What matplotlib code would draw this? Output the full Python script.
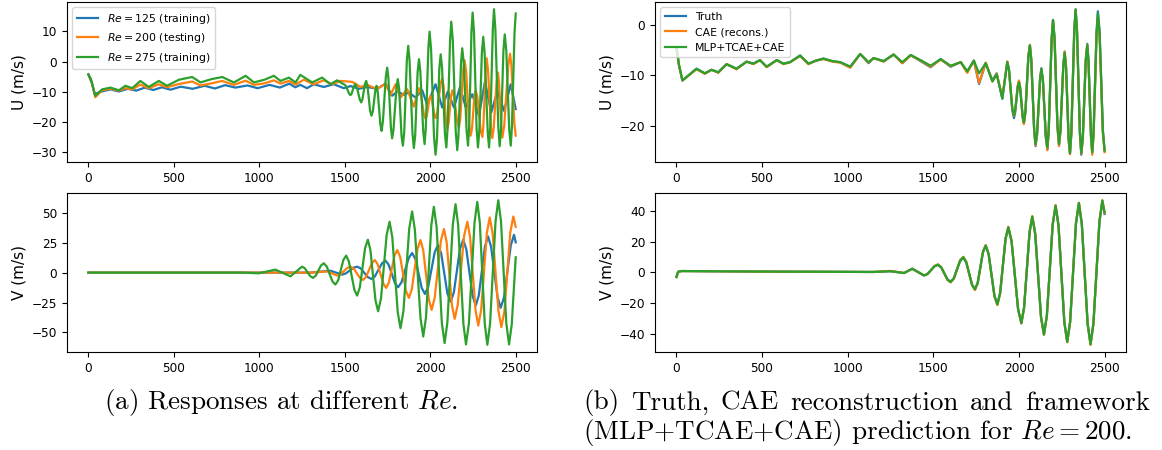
import matplotlib
matplotlib.use("Agg")
import matplotlib.pyplot as plt

# ---- (a) responses at different Re : U component, (time, value) ----
u125_pts = [(0, -4.2), (15, -5.8), (37, -10.8), (70, -10.0), (129, -9.2), (178, -9.9), (230, -9.0),
            (280, -9.6), (330, -8.6), (380, -9.4), (430, -8.5), (480, -9.3), (540, -8.3), (610, -9.0),
            (680, -8.0), (740, -8.9), (800, -7.8), (860, -8.6), (930, -7.9), (990, -8.8), (1060, -7.7),
            (1120, -8.6), (1175, -7.3), (1210, -8.5), (1240, -7.7), (1279, -8.8), (1318, -7.5), (1377, -8.4),
            (1436, -7.5), (1494, -8.8), (1533, -8.1), (1582, -9.0), (1631, -8.4), (1689, -9.0), (1738, -7.3),
            (1777, -11.3), (1807, -9.9), (1846, -11.0), (1875, -10.2), (1914, -11.9), (1953, -9.5),
            (1982, -14.3), (2031, -7.5), (2070, -15.2), (2103, -9.9), (2139, -15.2), (2174, -8.4),
            (2207, -15.0), (2246, -10.8), (2285, -17.9), (2320, -6.6), (2357, -16.8), (2393, -9.7),
            (2432, -16.3), (2471, -7.5), (2500, -15.7)]

u200_pts = [(0, -4.3), (20, -7.0), (40, -11.8), (80, -9.5), (129, -9.0), (178, -9.6), (217, -8.8),
            (256, -9.2), (304, -7.6), (353, -8.8), (412, -7.5), (460, -8.5), (530, -7.4), (607, -6.6),
            (656, -7.9), (720, -7.2), (783, -6.4), (851, -7.7), (920, -6.3), (968, -7.7), (1030, -7.2),
            (1085, -6.2), (1124, -7.3), (1173, -6.4), (1212, -7.6), (1260, -6.0), (1318, -7.5), (1377, -6.2),
            (1426, -7.5), (1475, -6.4), (1543, -6.7), (1592, -8.4), (1631, -7.7), (1689, -9.1), (1738, -7.3),
            (1768, -11.0), (1797, -7.5), (1826, -11.9), (1865, -9.1), (1904, -14.9), (1934, -8.8),
            (1944, -10.3), (1963, -17.5), (1973, -19.0), (1980, -17.9), (1995, -12.4), (2002, -11.3),
            (2009, -12.4), (2024, -17.6), (2031, -18.7), (2041, -16.8), (2060, -7.4), (2070, -5.5),
            (2078, -8.0), (2092, -19.8), (2100, -22.3), (2107, -20.4), (2122, -11.4), (2129, -9.5),
            (2139, -11.3), (2158, -20.0), (2168, -21.8), (2176, -18.6), (2193, -2.8), (2201, 0.4),
            (2210, -3.2), (2227, -20.9), (2236, -24.5), (2244, -22.3), (2258, -11.7), (2266, -9.5),
            (2276, -11.7), (2295, -22.7), (2305, -24.9), (2311, -21.1), (2324, -2.7), (2330, 1.1),
            (2338, -2.8), (2355, -21.4), (2363, -25.3), (2371, -22.1), (2388, -6.8), (2396, -3.6),
            (2402, -6.7), (2416, -22.0), (2422, -25.1), (2433, -21.1), (2456, -1.4), (2467, 2.6),
            (2475, -1.4), (2492, -20.5), (2500, -24.5)]

u275_pts = [(0, -4.3), (20, -7.0), (40, -11.3), (80, -9.2), (129, -8.6), (178, -9.5), (217, -8.0),
            (256, -8.8), (304, -6.4), (353, -8.4), (412, -6.4), (460, -8.0), (530, -6.0), (607, -5.1),
            (656, -6.9), (720, -5.8), (783, -5.1), (851, -6.9), (920, -4.7), (968, -6.9), (1030, -6.0),
            (1085, -4.7), (1124, -6.4), (1173, -5.3), (1212, -6.9), (1240, -4.4), (1309, -6.9), (1367, -5.3),
            (1416, -7.5), (1455, -6.2), (1500, -7.7), (1508, -8.2), (1525, -10.6), (1533, -11.1),
            (1540, -10.6), (1555, -8.0), (1562, -7.5), (1570, -8.4), (1588, -12.6), (1596, -13.5),
            (1603, -12.5), (1618, -7.4), (1625, -6.4), (1633, -8.1), (1648, -16.2), (1656, -17.9),
            (1664, -16.5), (1679, -9.4), (1686, -8.0), (1693, -10.2), (1708, -20.7), (1715, -22.9),
            (1723, -19.8), (1740, -5.1), (1748, -2.0), (1755, -5.4), (1770, -22.0), (1777, -25.4),
            (1785, -22.5), (1802, -8.7), (1810, -5.8), (1818, -9.0), (1832, -24.6), (1840, -27.8),
            (1848, -23.0), (1863, 0.4), (1871, 5.2), (1879, 0.3), (1896, -23.7), (1904, -28.6),
            (1912, -24.3), (1926, -3.5), (1934, 0.8), (1942, -3.3), (1959, -23.2), (1967, -27.3),
            (1974, -21.9), (1989, 4.5), (1996, 9.9), (2005, 3.9), (2022, -24.9), (2031, -30.8),
            (2039, -26.0), (2053, -2.4), (2061, 2.4), (2069, -2.1), (2086, -23.9), (2094, -28.4),
            (2101, -22.3), (2116, 7.1), (2123, 13.2), (2132, 7.0), (2149, -23.1), (2158, -29.3),
            (2165, -24.4), (2180, -0.5), (2187, 4.4), (2196, -0.3), (2213, -23.1), (2221, -27.8),
            (2228, -21.4), (2241, 9.8), (2248, 16.2), (2256, 9.7), (2271, -21.9), (2279, -28.4),
            (2287, -23.1), (2302, 2.9), (2310, 8.2), (2318, 2.9), (2336, -23.1), (2344, -28.4),
            (2351, -21.7), (2366, 10.6), (2373, 17.3), (2381, 10.7), (2398, -21.4), (2406, -28.0),
            (2414, -22.6), (2428, 3.6), (2436, 9.0), (2445, 3.6), (2462, -22.4), (2471, -27.8),
            (2478, -21.4), (2493, 9.5), (2500, 15.9)]

# ---- (a) V component ----
v125_pts = [(0, 0), (1300, 0), (1416, 1.6), (1484, -1.7), (1506, -0.7), (1550, 4.0), (1572, 5.0),
            (1593, 3.5), (1635, -3.8), (1656, -5.3), (1676, -3.1), (1718, 7.8), (1738, 10.0), (1756, 6.8),
            (1794, -9.0), (1812, -12.2), (1832, -8.0), (1874, 12.2), (1894, 16.4), (1913, 11.4),
            (1950, -12.8), (1969, -17.8), (1988, -11.8), (2026, 17.0), (2045, 23.0), (2064, 16.1),
            (2100, -17.3), (2119, -24.2), (2138, -16.7), (2174, 20.0), (2193, 27.5), (2211, 19.5),
            (2248, -19.5), (2266, -27.5), (2284, -19.1), (2320, 21.9), (2338, 30.3), (2356, 21.6),
            (2394, -20.7), (2412, -29.4), (2432, -20.5), (2471, 22.7), (2490, 31.6), (2500, 25.3)]

v200_pts = [(0, 0), (1300, 0), (1400, 1.0), (1455, -2.5), (1475, -1.4), (1514, 3.9), (1533, 5.0),
            (1552, 3.4), (1589, -4.5), (1607, -6.1), (1624, -3.7), (1659, 8.1), (1676, 10.5), (1692, 7.1),
            (1726, -9.4), (1742, -12.8), (1758, -8.2), (1791, 14.3), (1807, 18.9), (1824, 13.1),
            (1858, -15.3), (1875, -21.1), (1892, -14.0), (1926, 20.1), (1943, 27.2), (1959, 18.7),
            (1992, -22.6), (2008, -31.1), (2026, -21.2), (2062, 26.5), (2080, 36.4), (2096, 25.4),
            (2127, -27.6), (2143, -38.6), (2161, -26.8), (2198, 30.7), (2217, 42.5), (2233, 29.8),
            (2265, -31.5), (2281, -44.2), (2298, -31.0), (2331, 32.9), (2348, 46.1), (2365, 32.7),
            (2399, -32.2), (2416, -45.6), (2434, -32.1), (2468, 33.4), (2486, 46.9), (2500, 38.3)]

v275_pts = [(0, 0), (900, 0), (996, -0.6), (1094, 2.5), (1182, -3.1), (1250, 5.0), (1266, 3.6),
            (1298, -3.0), (1314, -4.4), (1330, -2.6), (1361, 6.0), (1377, 7.8), (1394, 5.2), (1428, -7.4),
            (1445, -10.0), (1461, -6.5), (1492, 10.7), (1508, 14.2), (1524, 9.3), (1556, -14.3),
            (1572, -19.2), (1588, -12.4), (1619, 20.7), (1635, 27.5), (1650, 18.8), (1680, -23.6),
            (1695, -32.3), (1712, -21.4), (1745, 31.6), (1762, 42.5), (1778, 29.5), (1810, -33.4),
            (1826, -46.4), (1843, -32.2), (1877, 36.9), (1894, 51.1), (1910, 35.8), (1943, -38.1),
            (1959, -53.4), (1975, -37.6), (2006, 39.2), (2021, 55.0), (2037, 38.4), (2068, -42.3),
            (2084, -58.9), (2100, -41.9), (2132, 40.2), (2148, 57.2), (2163, 40.1), (2194, -42.9),
            (2209, -60.0), (2226, -42.6), (2259, 41.7), (2275, 59.1), (2290, 41.7), (2319, -42.9),
            (2334, -60.3), (2350, -42.7), (2382, 42.9), (2398, 60.5), (2414, 42.9), (2445, -42.4),
            (2461, -60.0), (2477, -43.0), (2500, 12.8)]

# ---- (b) Re = 200 : truth, CAE reconstruction, MLP+TCAE+CAE ----
t_ub = [0, 15, 35, 117, 166, 205, 244, 293, 351, 410, 449, 488, 527, 586, 625, 664, 722, 771, 815, 859,
        910, 956, 1015, 1073, 1122, 1151, 1210, 1268, 1319, 1368, 1426, 1484, 1543, 1601, 1660, 1698,
        1737, 1767, 1806, 1845, 1870, 1903, 1932,
        1942, 1961, 1971, 1978, 1993, 2000, 2007, 2022, 2029, 2038, 2055, 2064, 2072, 2089, 2097,
        2106, 2123, 2131, 2140, 2157, 2166, 2174, 2191, 2199, 2208, 2225, 2234, 2242, 2259, 2267,
        2275, 2290, 2298, 2306, 2323, 2331, 2339, 2356, 2364, 2373, 2390, 2399, 2406, 2421, 2428,
        2436, 2453, 2461, 2471, 2490, 2500]
ub_truth = [-4.5, -8.0, -11.0, -8.7, -9.6, -8.9, -9.4, -7.8, -8.7, -7.3, -7.7, -7.0, -8.3, -7.0, -7.7,
            -7.4, -6.1, -7.7, -7.1, -6.7, -7.2, -7.4, -8.3, -5.8, -7.6, -6.6, -7.2, -5.9, -7.6, -6.0,
            -7.2, -8.4, -6.8, -8.3, -7.4, -9.3, -7.1, -11.7, -7.6, -11.0, -9.6, -14.6, -7.3,
            -8.9, -16.8, -18.4, -17.3, -12.2, -11.2, -12.4, -18.3, -19.4, -17.2, -6.3, -4.1, -7.0, -21.0,
            -23.9, -21.6, -10.9, -8.6, -11.0, -22.2, -24.6, -20.8, -2.8, 0.9, -2.7, -20.1, -23.7, -21.0,
            -8.0, -5.3, -8.3, -22.5, -25.4, -21.3, -1.2, 3.0, -1.3, -21.5, -25.6, -22.3, -6.9, -3.8,
            -7.0, -22.1, -25.2, -21.2, -1.5, 2.6, -1.4, -20.8, -24.6]
ub_cae = [-4.5, -8.0, -11.0, -8.8, -9.7, -8.9, -9.5, -7.8, -8.8, -7.3, -7.8, -7.0, -8.4, -7.0, -7.8,
          -7.4, -6.2, -7.8, -7.1, -6.8, -7.3, -7.5, -8.5, -5.8, -7.5, -6.6, -7.3, -5.9, -7.6, -6.1,
          -7.1, -8.3, -6.9, -8.2, -7.4, -9.5, -7.1, -11.5, -7.5, -11.2, -9.7, -14.3, -7.3,
          -9.0, -16.5, -18.0, -16.9, -12.0, -11.0, -12.3, -18.4, -19.6, -17.3, -6.2, -4.0, -6.9, -20.9,
          -23.7, -21.6, -11.0, -8.8, -11.2, -22.1, -24.7, -20.9, -2.9, 0.8, -2.8, -20.3, -23.9, -21.3,
          -8.1, -5.4, -8.3, -22.6, -25.5, -21.5, -1.4, 2.8, -1.3, -21.4, -25.4, -22.3, -7.1, -4.0,
          -7.3, -22.4, -25.6, -21.8, -2.4, 1.5, -2.4, -21.4, -25.1]
ub_mlp = [-4.5, -8.0, -11.0, -8.7, -9.6, -8.9, -9.4, -7.8, -8.7, -7.3, -7.7, -7.0, -8.3, -7.0, -7.7,
          -7.4, -6.1, -7.7, -7.1, -6.7, -7.2, -7.4, -8.3, -5.8, -7.4, -6.6, -7.2, -5.9, -7.4, -6.0,
          -7.0, -8.1, -6.8, -8.1, -7.4, -9.2, -7.1, -9.6, -7.6, -11.2, -9.8, -14.5, -7.4,
          -8.9, -16.4, -17.9, -16.9, -12.3, -11.4, -12.5, -18.1, -19.2, -17.0, -6.3, -4.1, -6.9, -20.7,
          -23.5, -21.3, -10.9, -8.7, -11.0, -21.9, -24.2, -20.5, -2.8, 0.9, -2.7, -19.9, -23.5, -20.9,
          -8.2, -5.6, -8.5, -22.4, -25.3, -21.2, -1.2, 2.95, -1.2, -21.2, -25.3, -22.2, -7.2, -4.1,
          -7.2, -22.0, -25.1, -21.1, -1.8, 2.2, -1.7, -20.9, -24.8]

t_vb = [0, 10, 30, 300, 600, 900, 1150, 1250, 1329, 1377, 1446,
        1466, 1507, 1527, 1546, 1583, 1601, 1620, 1656, 1675, 1692, 1726, 1743, 1759, 1790, 1806,
        1823, 1857, 1874, 1890, 1922, 1938, 1957, 1995, 2014, 2030, 2062, 2078, 2095, 2129, 2146,
        2163, 2197, 2214, 2231, 2265, 2282, 2299, 2333, 2350, 2367, 2401, 2418, 2435, 2470, 2487, 2500]
vb_truth = [-3.0, 0.4, 0.9, 0.7, 0.5, 0.4, 0.3, 0.8, -0.4, 2.4, -2.0,
            -1.0, 4.0, 5.0, 3.3, -4.6, -6.0, -3.7, 7.3, 9.6, 6.6, -8.1, -11.2, -7.0, 13.2, 17.4,
            11.9, -15.4, -21.0, -13.6, 21.9, 29.2, 20.2, -24.1, -33.4, -23.1, 26.2, 36.3, 25.1, -29.2, -40.4,
            -28.2, 31.2, 43.5, 30.6, -32.4, -45.4, -32.1, 31.9, 45.2, 31.8, -33.5, -47.0, -33.3, 33.0, 46.4,
            38.2]
vb_cae = [-3.0, 0.4, 0.9, 0.7, 0.5, 0.4, 0.3, 1.0, -0.4, 2.4, -2.0,
          -1.1, 4.2, 5.3, 3.5, -5.0, -6.5, -4.1, 8.0, 10.2, 7.0, -8.3, -11.5, -7.2, 13.7, 17.9,
          12.2, -15.6, -21.3, -13.8, 22.5, 29.8, 20.7, -24.0, -33.2, -23.0, 26.7, 36.8, 25.5, -29.6, -40.8,
          -28.5, 31.8, 44.0, 31.0, -32.6, -45.7, -32.3, 32.4, 45.6, 32.0, -33.7, -47.3, -33.5, 33.6, 47.2,
          38.8]
vb_mlp = [-3.0, 0.4, 0.9, 0.7, 0.5, 0.4, 0.3, 0.8, -0.4, 2.4, -2.0,
          -1.0, 4.0, 5.0, 3.3, -4.7, -6.3, -3.9, 7.6, 10.0, 6.9, -7.9, -11.0, -6.8, 13.4, 17.6,
          12.0, -15.3, -20.9, -13.5, 22.2, 29.6, 20.5, -23.9, -33.0, -22.9, 26.4, 36.5, 25.2, -29.3, -40.6,
          -28.3, 31.4, 43.7, 30.7, -32.4, -45.4, -32.1, 32.1, 45.4, 31.9, -33.5, -47.0, -33.3, 33.3, 47.0,
          39.4]

lw = 1.6
plt.rcParams['xtick.labelsize'] = 8.7
plt.rcParams['ytick.labelsize'] = 8.7

fig = plt.figure(figsize=(11.62, 4.5), dpi=100)
ax1 = fig.add_axes([0.0577, 0.640, 0.4045, 0.3556])
ax2 = fig.add_axes([0.0577, 0.2178, 0.4045, 0.3533])
ax3 = fig.add_axes([0.5637, 0.640, 0.4053, 0.3556])
ax4 = fig.add_axes([0.5637, 0.2178, 0.4053, 0.3533])

# left column
for pts, lab in [(u125_pts, '$Re = 125$ (training)'), (u200_pts, '$Re = 200$ (testing)'),
                 (u275_pts, '$Re = 275$ (training)')]:
    t, u = zip(*pts)
    ax1.plot(t, u, lw=lw, label=lab)
ax1.set_ylabel('U (m/s)', fontsize=11)
ax1.legend(loc='upper left', fontsize=7.8)

for pts in [v125_pts, v200_pts, v275_pts]:
    t, v = zip(*pts)
    ax2.plot(t, v, lw=lw)
ax2.set_ylabel('V (m/s)', fontsize=11)

# right column
ax3.plot(t_ub, ub_truth, lw=lw, label='Truth')
ax3.plot(t_ub, ub_cae, lw=lw, label='CAE (recons.)')
ax3.plot(t_ub, ub_mlp, lw=lw, label='MLP+TCAE+CAE')
ax3.set_ylabel('U (m/s)', fontsize=11)
ax3.legend(loc='upper left', fontsize=7.8)

ax4.plot(t_vb, vb_truth, lw=lw)
ax4.plot(t_vb, vb_cae, lw=lw)
ax4.plot(t_vb, vb_mlp, lw=lw)
ax4.set_ylabel('V (m/s)', fontsize=11)

for ax in [ax1, ax2, ax3, ax4]:
    ax.set_xticks([0, 500, 1000, 1500, 2000, 2500])

# captions (LaTeX-like serif)
cap = dict(fontfamily='cmr10', math_fontfamily='cm', fontsize=19.5, va='center')
fig.text(281 / 1162, 1 - 403 / 450, '(a) Responses at different $Re$.', ha='center', **cap)

# first line of (b) is justified between x=583 and x=1150 px
words = '(b) Truth, CAE reconstruction and framework'.split()
objs = [fig.text(0, 1 - 403 / 450, w, ha='left', **cap) for w in words]
renderer = fig.canvas.get_renderer()
widths = [o.get_window_extent(renderer).width for o in objs]
gap = (1150 - 583 - sum(widths)) / (len(words) - 1)
x = 583
for o, w in zip(objs, widths):
    o.set_x(x / 1162)
    x += w + gap
fig.text(583 / 1162, 1 - 432 / 450, '(MLP+TCAE+CAE) prediction for $Re = 200$.', ha='left', **cap)

fig.savefig('out.png', dpi=100)
